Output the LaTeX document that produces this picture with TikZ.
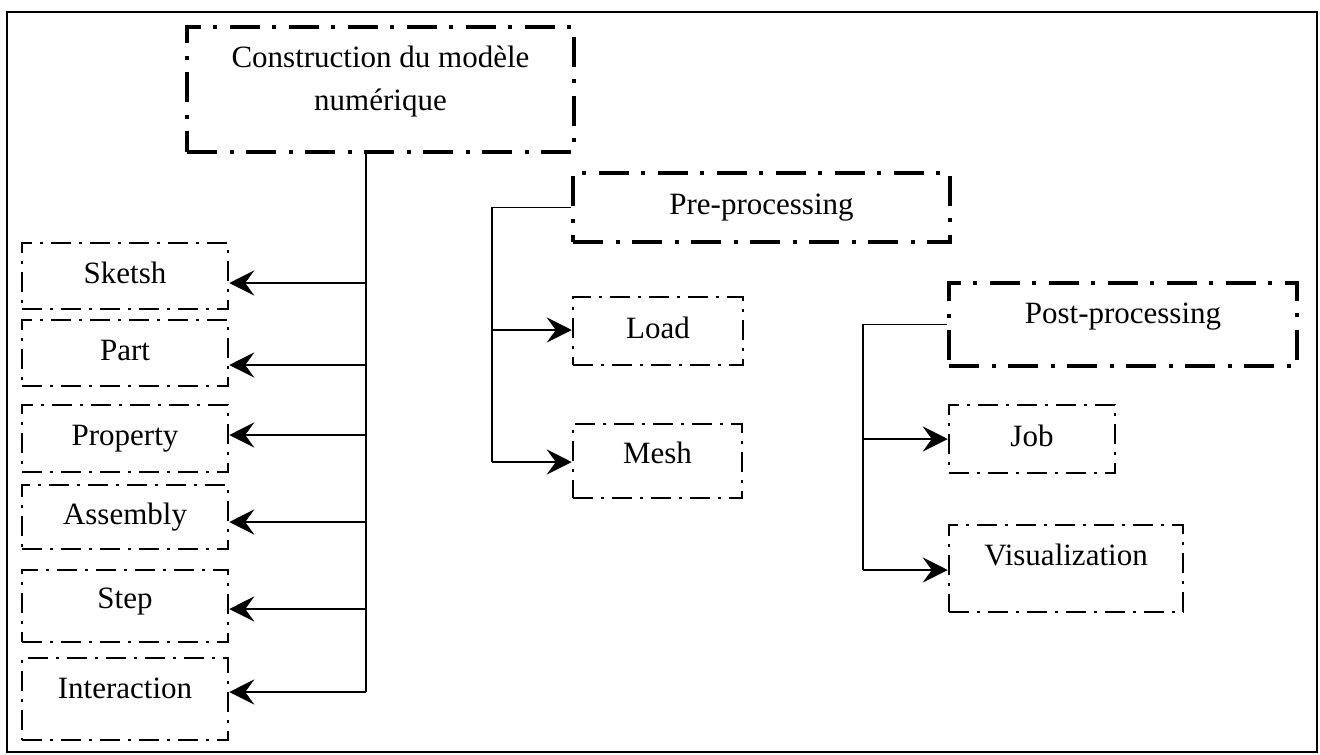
\documentclass[tikz,border=0pt]{standalone}
\usepackage{fontspec}
\setmainfont{Liberation Serif}
\usetikzlibrary{arrows.meta}
\begin{document}
\begin{tikzpicture}[x=1pt,y=-1pt,
  boxfont/.style={font=\fontsize{31}{43}\selectfont},
  bigbox/.style={draw, line width=4pt, dash pattern=on 30pt off 13pt on 4pt off 12pt, inner sep=0pt, boxfont},
  smallbox/.style={draw, line width=2.5pt, dash pattern=on 20pt off 8pt on 3pt off 8pt, inner sep=0pt, boxfont},
  tx/.style={text height=22pt, text depth=#1},
  tx/.default=8pt,
  conn/.style={line width=2pt},
  thinconn/.style={line width=1.6pt},
  arr/.style={line width=2pt, -{Stealth[length=25pt,width=25pt,inset=9pt]}}
]
\useasboundingbox (0,0) rectangle (1320,755);
\draw[line width=2pt] (7,12) rectangle (1317,752);

% main boxes
\node[bigbox, align=center, text height=65pt, text depth=24pt, minimum width=387pt, minimum height=125pt] (cons) at (380.5,89.5)
  {Construction du modèle\\numérique};
\node[bigbox, tx, minimum width=377pt, minimum height=69pt] (pre) at (761.5,207.5) {Pre-processing};
\node[bigbox, tx=25pt, minimum width=348pt, minimum height=83pt] (post) at (1123,324.5) {Post-processing};

% left column
\node[smallbox, tx, minimum width=206pt, minimum height=66pt] (sk) at (125,276) {Sketsh};
\node[smallbox, tx, minimum width=206pt, minimum height=66pt] (pa) at (125,353) {Part};
\node[smallbox, tx, minimum width=206pt, minimum height=67pt] (pr) at (125,438.5) {Property};
\node[smallbox, tx, minimum width=206pt, minimum height=64pt] (as) at (125,517) {Assembly};
\node[smallbox, tx=18pt, minimum width=206pt, minimum height=72pt] (st) at (125,606) {Step};
\node[smallbox, tx=24pt, minimum width=206pt, minimum height=82pt] (in) at (125,699) {Interaction};

% pre-processing children
\node[smallbox, tx, minimum width=170pt, minimum height=68pt] (lo) at (658,331) {Load};
\node[smallbox, tx=18pt, minimum width=169pt, minimum height=74pt] (me) at (657.5,461) {Mesh};

% post-processing children
\node[smallbox, tx, minimum width=166pt, minimum height=68pt] (jo) at (1032,439) {Job};
\node[smallbox, tx=29pt, minimum width=234pt, minimum height=87pt] (vi) at (1066,568.5) {Visualization};

% trunk of the construction box
\coordinate (t1) at (366,283);
\coordinate (t2) at (366,365);
\coordinate (t3) at (366,435);
\coordinate (t4) at (366,522);
\coordinate (t5) at (366,609);
\coordinate (t6) at (366,692);
\draw[conn] (cons.south -| t6) -- (t6);
\draw[arr] (t1) -- (t1 -| sk.east);
\draw[arr] (t2) -- (t2 -| pa.east);
\draw[arr] (t3) -- (t3 -| pr.east);
\draw[arr] (t4) -- (t4 -| as.east);
\draw[arr] (t5) -- (t5 -| st.east);
\draw[arr] (t6) -- (t6 -| in.east);

% pre-processing branch
\coordinate (p1) at (492,330);
\coordinate (p2) at (492,462);
\draw[thinconn] (pre.west) -| (p2);
\draw[arr] (p1) -- (p1 -| lo.west);
\draw[arr] (p2) -- (p2 -| me.west);

% post-processing branch
\coordinate (q1) at (863,439);
\coordinate (q2) at (863,570);
\draw[thinconn] (post.west) -| (q2);
\draw[arr] (q1) -- (q1 -| jo.west);
\draw[arr] (q2) -- (q2 -| vi.west);
\end{tikzpicture}
\end{document}
